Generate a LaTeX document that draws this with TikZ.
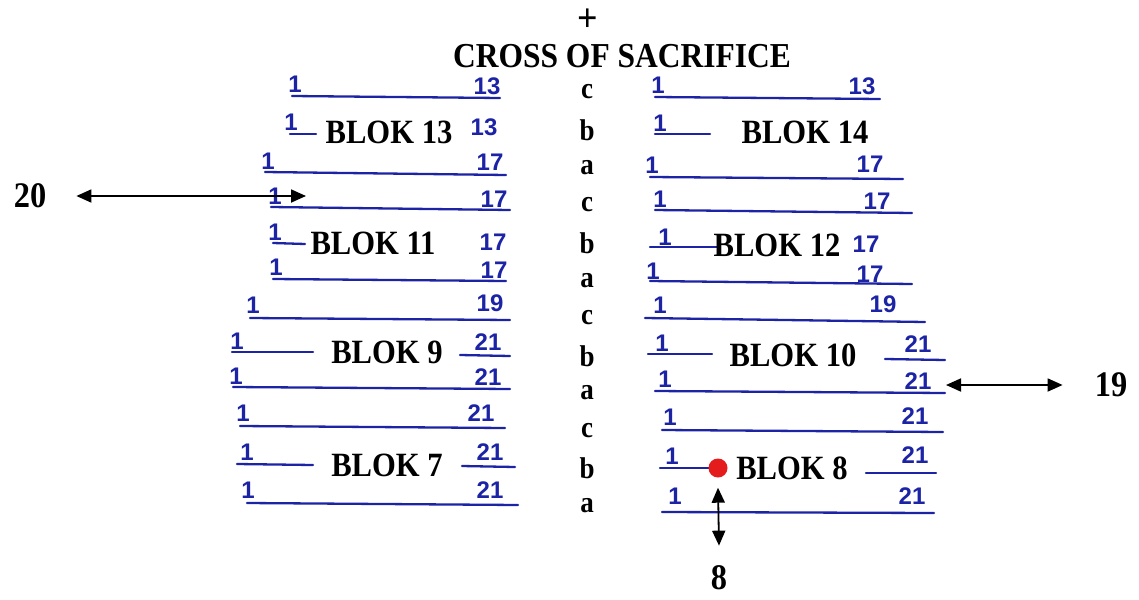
\documentclass[tikz,border=0pt]{standalone}
\usepackage{fontspec}
\setmainfont{Liberation Serif}[FakeStretch=0.9]
\newfontfamily\handfont{Liberation Sans}
\usetikzlibrary{arrows.meta}
\definecolor{hand}{RGB}{28,36,165}
\definecolor{dotred}{RGB}{228,28,28}
\tikzset{
  hl/.style={draw=hand, line width=2.3pt, line cap=round},
  num/.style={text=hand, font=\handfont\fontsize{24}{24}\selectfont\bfseries, inner sep=0pt},
  row/.style={font=\fontsize{30}{30}\selectfont\bfseries, inner sep=0pt},
  blok/.style={font=\fontsize{34}{34}\selectfont\bfseries, inner sep=0pt},
  big/.style={font=\fontsize{36}{36}\selectfont\bfseries, inner sep=0pt},
  arr/.style={line width=1.8pt, {Triangle[length=15pt,width=13pt]}-{Triangle[length=15pt,width=13pt]}}
}
\begin{document}
\begin{tikzpicture}[x=1pt,y=-1pt]
\useasboundingbox[fill=white] (0,0) rectangle (1139,599);
% title
\node[font=\fontsize{40}{40}\selectfont\bfseries, inner sep=0pt] (plus) at (588,20) {+};
\node[font=\fontsize{35}{35}\selectfont\bfseries, inner sep=0pt] (title) at (622,56) {CROSS OF SACRIFICE};
% row letters
\foreach \l/\y [count=\i] in {c/92,b/130,a/168,c/205,b/243,a/281,c/318,b/356,a/393,c/431,b/468,a/506}
  \node[row] (r\i) at (587,\y) {\l};
% ---------- left column ----------
\draw[hl] (292,96) -- (500,98);
\node[num] (l1a) at (295,84) {1}; \node[num] (l1b) at (487,86) {13};
\draw[hl] (290,134) -- (316,134);
\node[num] (l2a) at (291,122) {1}; \node[blok] (b13) at (389,132) {BLOK 13}; \node[num] (l2b) at (484,127) {13};
\draw[hl] (265,172) -- (506,175);
\node[num] (l3a) at (268,161) {1}; \node[num] (l3b) at (490,162) {17};
\draw[hl] (271,207) -- (510,210);
\node[num] (l4a) at (275,196) {1}; \node[num] (l4b) at (494,199) {17};
\draw[hl] (273,243) -- (305,244);
\node[num] (l5a) at (275,232) {1}; \node[blok] (b11) at (373,243) {BLOK 11}; \node[num] (l5b) at (493,242) {17};
\draw[hl] (273,279) -- (506,281);
\node[num] (l6a) at (276,267) {1}; \node[num] (l6b) at (494,270) {17};
\draw[hl] (250,318) -- (510,320);
\node[num] (l7a) at (253,305) {1}; \node[num] (l7b) at (490,303) {19};
\draw[hl] (232,352) -- (313,352);
\node[num] (l8a) at (237,341) {1}; \node[blok] (b9) at (387,352) {BLOK 9};
\draw[hl] (460,355) -- (510,356); \node[num] (l8b) at (488,342) {21};
\draw[hl] (233,387) -- (510,389);
\node[num] (l9a) at (236,376) {1}; \node[num] (l9b) at (488,377) {21};
\draw[hl] (240,426) -- (505,428);
\node[num] (l10a) at (243,413) {1}; \node[num] (l10b) at (481,413) {21};
\draw[hl] (237,464) -- (313,465);
\node[num] (l11a) at (247,452) {1}; \node[blok] (b7) at (387,465) {BLOK 7};
\draw[hl] (462,466) -- (515,467); \node[num] (l11b) at (490,452) {21};
\draw[hl] (247,503) -- (518,505);
\node[num] (l12a) at (248,490) {1}; \node[num] (l12b) at (490,490) {21};
% ---------- right column ----------
\draw[hl] (655,97) -- (880,99);
\node[num] (q1a) at (658,85) {1}; \node[num] (q1b) at (862,86) {13};
\draw[hl] (655,134) -- (710,134);
\node[num] (q2a) at (660,123) {1}; \node[blok] (b14) at (805,132) {BLOK 14};
\draw[hl] (650,177) -- (903,179);
\node[num] (q3a) at (652,165) {1}; \node[num] (q3b) at (870,164) {17};
\draw[hl] (655,210) -- (912,213);
\node[num] (q4a) at (660,199) {1}; \node[num] (q4b) at (877,201) {17};
\draw[hl] (650,247) -- (718,247);
\node[num] (q5a) at (665,237) {1}; \node[blok] (b12) at (777,245) {BLOK 12}; \node[num] (q5b) at (866,244) {17};
\draw[hl] (650,281) -- (912,284);
\node[num] (q6a) at (653,271) {1}; \node[num] (q6b) at (870,274) {17};
\draw[hl] (645,318) -- (925,322);
\node[num] (q7a) at (660,305) {1}; \node[num] (q7b) at (883,304) {19};
\draw[hl] (648,354) -- (712,354);
\node[num] (q8a) at (662,343) {1}; \node[blok] (b10) at (793,355) {BLOK 10};
\draw[hl] (885,359) -- (945,360); \node[num] (q8b) at (918,344) {21};
\draw[hl] (655,391) -- (945,393);
\node[num] (q9a) at (665,379) {1}; \node[num] (q9b) at (918,381) {21};
\draw[hl] (662,430) -- (943,432);
\node[num] (q10a) at (670,417) {1}; \node[num] (q10b) at (915,416) {21};
\draw[hl] (660,468) -- (716,468);
\node[num] (q11a) at (672,456) {1}; \node[blok] (b8) at (792,468) {BLOK 8};
\draw[hl] (866,473) -- (936,473); \node[num] (q11b) at (915,455) {21};
\draw[hl] (662,512) -- (934,513);
\node[num] (q12a) at (675,496) {1}; \node[num] (q12b) at (912,496) {21};
% red dot
\node[circle, fill=dotred, minimum size=19pt, inner sep=0pt] (dot) at (718,468) {};
% side labels and arrows
\node[big] (n20) at (30,196) {20};
\coordinate (e20) at (306,196);
\draw[arr] (n20.east) ++(30,0) coordinate (s20) -- (e20);
\node[big] (n19) at (1111,385) {19};
\coordinate (s19) at (946,385);
\draw[arr] (s19) -- ([xshift=-32pt]n19.west);
\node[big] (n8) at (719,578) {8};
\draw[arr] ([yshift=-10pt]dot.south) -- ([yshift=20pt]n8.north);
\end{tikzpicture}
\end{document}
